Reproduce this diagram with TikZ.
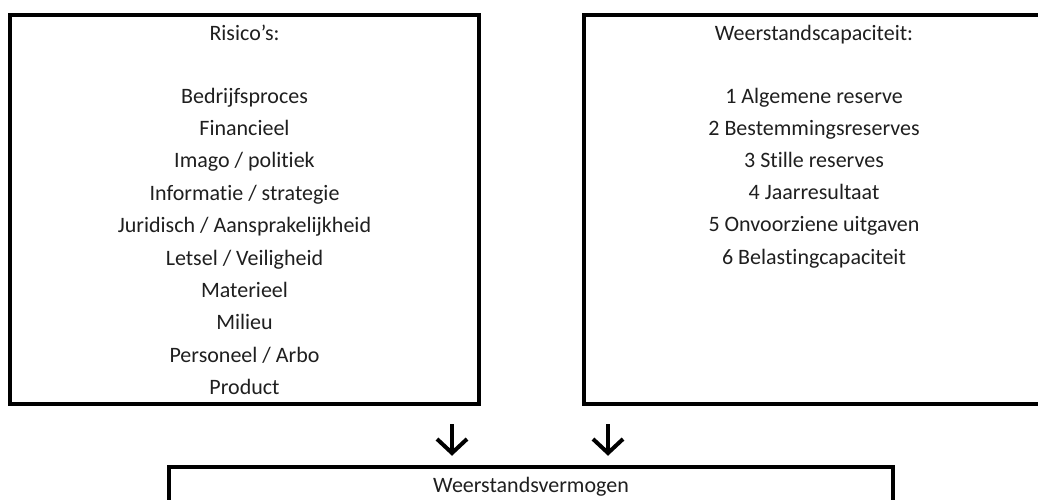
\documentclass[tikz,border=0pt]{standalone}
\usepackage{fontspec}
\setmainfont{Carlito}[Ligatures=NoCommon]
\usetikzlibrary{arrows.meta}
\begin{document}
\begin{tikzpicture}[x=1pt,y=-1pt,
  boxline/.style={draw=black,line width=4.5pt,inner sep=0pt},
  txt/.style={anchor=base,inner sep=0pt,text=black!88,font=\fontsize{22}{26}\selectfont},
  arr/.style={line width=4pt,-{Straight Barb[length=14pt,width=30pt]}}]
\useasboundingbox (0,0) rectangle (1038,500);
\clip (0,0) rectangle (1038,500);
% boxes
\node[boxline,minimum width=469pt,minimum height=389pt] (L) at (244.5,209.5) {};
\node[boxline,minimum width=459pt,minimum height=389pt] (R) at (813.5,209.5) {};
\node[boxline,minimum width=724pt,minimum height=60pt] (B) at (531,497) {};
% titles
\node[txt] (Lt) at (244.5,41) {Risico's:};
\node[txt] (Rt) at (814,41) {Weerstandscapaciteit:};
% lists
\foreach \t [count=\i] in {Bedrijfsproces,Financieel,Imago / politiek,Informatie / strategie,Juridisch / Aansprakelijkheid,Letsel / Veiligheid,Materieel,Milieu,Personeel / Arbo,Product}
  \node[txt] (l\i) at (244.5,{103+(\i-1)*32.4}) {\t};
\foreach \t [count=\i] in {1 Algemene reserve,2 Bestemmingsreserves,3 Stille reserves,4 Jaarresultaat,5 Onvoorziene uitgaven,6 Belastingcapaciteit}
  \node[txt] (r\i) at (814,{103+(\i-1)*32.2}) {\t};
\node[txt] (Bt) at (531,492) {Weerstandsvermogen};
% arrows
\coordinate (a1) at (452,0);
\coordinate (a2) at (608,0);
\draw[arr,shorten <=18pt,shorten >=9pt] (L.south -| a1) -- (B.north -| a1);
\draw[arr,shorten <=18pt,shorten >=9pt] (R.south -| a2) -- (B.north -| a2);
\end{tikzpicture}
\end{document}
